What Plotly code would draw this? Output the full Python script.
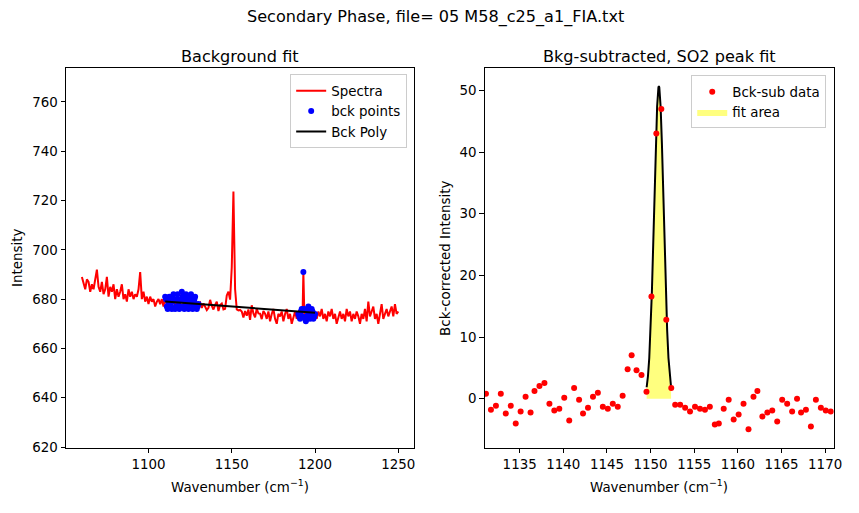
import numpy as np
import plotly.graph_objects as go

W, H = 859, 513

# ---------------- data ----------------
# spectrum, segments (x-start, x-end, step) and values
seg1_y = [  # 1060-1109, step 1
    689, 686, 684, 688, 687, 683, 686, 684, 688, 692,
    685, 683, 687, 682, 684, 689, 681, 685, 683, 686,
    680, 684, 681, 683, 686, 680, 682, 679, 684, 681,
    683, 680, 682, 681, 684, 691, 680, 683, 679, 681,
    678, 681, 679, 680, 677, 679, 680, 678, 680, 677,
]
seg2_y = [  # 1110-1130, step 0.5 (background window 1)
    681, 680, 677, 676, 678, 681, 680, 677, 676, 679,
    682, 680, 676, 677, 680, 682, 679, 676, 677, 680,
    683, 681, 677, 676, 679, 682, 680, 677, 676, 678,
    681, 682, 679, 676, 677, 680, 681, 678, 676, 677,
    678,
]
seg3_y = [  # 1131-1189, step 1
    678.6, 676.4, 678.3, 676.6, 675.6, 676.5, 679.7, 677.3, 675.8,
    677.7, 679.0, 675.2, 677.6, 678.2, 675.8, 676.1, 681.5, 683.0, 679.8,
    693.0, 723.6, 684.0, 675.8, 675.4, 675.6, 675.0, 672.6, 675.2, 673.3,
    675.8, 671.6, 677.5, 674.2, 672.6, 676.1, 674.2, 674.1, 671.9, 675.2,
    674.1, 672, 675, 671, 674, 676, 672, 670, 674, 673,
    675, 671, 674, 676, 672, 674, 670, 673, 675, 672,
]
seg4_y = [  # 1190-1200, step 0.5 (background window 2)
    674, 673, 672, 675, 676, 673, 691, 676, 672, 671,
    673, 675, 677, 674, 672, 673, 676, 675, 672, 673,
    674,
]
seg5_y = [  # 1201-1250, step 1
    672, 675, 673, 676, 672, 674, 671, 675, 673,
    676, 672, 674, 670, 673, 675, 672, 674, 671, 676,
    673, 675, 671, 674, 672, 675, 673, 670, 674, 672,
    676, 671, 679, 673, 675, 677, 672, 674, 670, 675,
    678, 672, 674, 676, 673, 675, 677, 673, 678, 674,
    675,
]
segments = [(1060, 1109, 1.0, seg1_y), (1110, 1130, 0.5, seg2_y), (1131, 1189, 1.0, seg3_y),
            (1190, 1200, 0.5, seg4_y), (1201, 1250, 1.0, seg5_y)]
spectra_x, spectra_y = [], []
for a, b, s, ys in segments:
    xs = np.arange(a, b + s / 2, s)
    assert len(xs) == len(ys), (a, len(xs), len(ys))
    spectra_x.extend(xs.tolist())
    spectra_y.extend(ys)

bck_ranges = [(1110, 1130), (1190, 1200)]
poly_x = [1110, 1200]
poly_y = [679.0, 674.5]

sub_x = [1131.14, 1131.71, 1132.28, 1132.84, 1133.41, 1133.98, 1134.55, 1135.11, 1135.68, 1136.25,
         1136.70, 1137.27, 1137.84, 1138.41, 1138.97, 1139.54, 1140.11, 1140.68, 1141.24, 1141.81,
         1142.26, 1142.83, 1143.40, 1143.96, 1144.53, 1145.10, 1145.67, 1146.24, 1146.80, 1147.37,
         1147.83, 1148.39, 1148.96, 1149.53, 1150.10, 1150.66, 1151.23, 1151.80, 1152.37, 1152.82,
         1153.39, 1153.96, 1154.52, 1155.09, 1155.66, 1156.23, 1156.79, 1157.36, 1157.82, 1158.38,
         1158.95, 1159.52, 1160.09, 1160.65, 1161.22, 1161.79, 1162.24, 1162.81, 1163.38, 1163.94,
         1164.51, 1165.08, 1165.65, 1166.22, 1166.78, 1167.24, 1167.80, 1168.37, 1168.94, 1169.51,
         1170.07, 1170.64]
sub_y = [0.80, -1.76, -1.12, 0.80, -2.40, -1.12, -4.00, -2.08, 0.32, -2.24,
         1.28, 2.08, 2.56, -0.80, -1.92, -1.60, 0.16, -3.52, 1.76, -0.16,
         -2.40, -1.44, 0.32, 0.96, -1.28, -1.60, -0.80, -1.28, 0.48, 4.80,
         7.04, 4.64, 3.84, 1.12, 16.58, 43.0, 47.0, 12.8, 1.76, -0.96,
         -0.96, -1.44, -2.08, -1.28, -1.60, -1.76, -1.28, -4.16, -4.00, -1.60,
         -0.16, -3.36, -2.56, -0.80, -4.96, 0.32, 1.28, -2.88, -2.24, -1.92,
         -3.68, -0.16, -0.80, -2.08, 0.00, -2.24, -1.76, -4.48, -0.16, -1.44,
         -1.92, -2.08]

fit_x = [1149.55, 1149.70, 1149.85, 1150.00, 1150.15, 1150.30, 1150.45, 1150.60, 1150.75, 1150.90,
         1150.95, 1151.00, 1151.15, 1151.30, 1151.45, 1151.60, 1151.75, 1151.90, 1152.05, 1152.20,
         1152.35]
fit_y = [1.87, 3.65, 6.61, 11.1, 17.3, 24.9, 33.3, 41.3, 47.4, 50.5,
         50.7, 50.5, 47.4, 41.3, 33.3, 24.9, 17.3, 11.1, 6.61, 3.65,
         1.87]

left_xticks = [1100, 1150, 1200, 1250]
left_yticks = [620, 640, 660, 680, 700, 720, 740, 760]
right_xticks = [1135, 1140, 1145, 1150, 1155, 1160, 1165, 1170]
right_yticks = [0, 10, 20, 30, 40, 50]

# ---------------- geometry (pixels) ----------------
L_x0, L_x1 = 66.7, 418.0
R_x0, R_x1 = 489.3, 841.7
A_top, A_bot = 69.3, 454.0

def px(x):
    return x / W

def py(y):
    return 1 - y / H

FONT = "DejaVu Sans"
FS = 13.4      # tick labels, axis labels, legends
FT = 16.1      # titles

fig = go.Figure()

bx = [x for x, y in zip(spectra_x, spectra_y) if any(a <= x <= b for a, b in bck_ranges)]
by = [y for x, y in zip(spectra_x, spectra_y) if any(a <= x <= b for a, b in bck_ranges)]

fig.add_trace(go.Scatter(x=spectra_x, y=spectra_y, mode="lines", name="Spectra",
                         line=dict(color="red", width=2), xaxis="x", yaxis="y", legend="legend"))
fig.add_trace(go.Scatter(x=bx, y=by, mode="markers", name="bck points",
                         marker=dict(color="blue", size=6), xaxis="x", yaxis="y", legend="legend"))
fig.add_trace(go.Scatter(x=poly_x, y=poly_y, mode="lines", name="Bck Poly",
                         line=dict(color="black", width=2), xaxis="x", yaxis="y", legend="legend"))
fig.add_trace(go.Scatter(x=fit_x, y=fit_y, mode="lines", name="fit area", fill="tozeroy",
                         fillcolor="rgba(255,255,0,0.5)", line=dict(width=0, color="rgba(255,255,0,0.5)"),
                         xaxis="x2", yaxis="y2", legend="legend2", legendrank=2))
fig.add_trace(go.Scatter(x=fit_x, y=fit_y, mode="lines", showlegend=False,
                         line=dict(color="black", width=2), xaxis="x2", yaxis="y2"))
fig.add_trace(go.Scatter(x=sub_x, y=sub_y, mode="markers", name="Bck-sub data",
                         marker=dict(color="red", size=6), xaxis="x2", yaxis="y2",
                         legend="legend2", legendrank=1))

axis_common = dict(showgrid=False, zeroline=False, showline=True, linecolor="black", linewidth=1,
                   mirror=True, ticks="outside", ticklen=4.5, tickwidth=1, tickcolor="black",
                   tickfont=dict(family=FONT, size=FS, color="black"))

legend_common = dict(xanchor="right", yanchor="top", bgcolor="rgba(255,255,255,0.8)",
                     bordercolor="#cccccc", borderwidth=1,
                     font=dict(family=FONT, size=FS, color="black"), itemwidth=30, tracegroupgap=0)

fig.update_layout(
    width=W, height=H, margin=dict(l=0, r=0, t=0, b=0),
    plot_bgcolor="white", paper_bgcolor="white",
    font=dict(family=FONT, size=FS, color="black"),
    xaxis=dict(domain=[px(L_x0), px(L_x1)], range=[1050.5, 1259.5], tickvals=left_xticks, anchor="y", **axis_common),
    yaxis=dict(domain=[py(A_bot), py(A_top)], range=[619.7, 773.6], tickvals=left_yticks, anchor="x", **axis_common),
    xaxis2=dict(domain=[px(R_x0), px(R_x1)], range=[1131.0, 1171.0], tickvals=right_xticks, anchor="y2", **axis_common),
    yaxis2=dict(domain=[py(A_bot), py(A_top)], range=[-7.95, 53.58], tickvals=right_yticks, anchor="x2", **axis_common),
    legend=dict(x=px(411), y=py(75.5), **legend_common),
    legend2=dict(x=px(834), y=py(76.5), **legend_common),
    showlegend=True,
)

ann = [
    dict(text="Secondary Phase, file= 05 M58_c25_a1_FIA.txt", x=px(440), y=py(17), size=FT),
    dict(text="Background fit", x=px((L_x0 + L_x1) / 2), y=py(57), size=FT),
    dict(text="Bkg-subtracted, SO2 peak fit", x=px((R_x0 + R_x1) / 2), y=py(57), size=FT),
    dict(text="Wavenumber (cm<sup>−1</sup>)", x=px((L_x0 + L_x1) / 2), y=py(493), size=FS),
    dict(text="Wavenumber (cm<sup>−1</sup>)", x=px((R_x0 + R_x1) / 2), y=py(493), size=FS),
]
for a in ann:
    fig.add_annotation(text=a["text"], x=a["x"], y=a["y"], xref="paper", yref="paper",
                       showarrow=False, xanchor="center", yanchor="middle",
                       font=dict(family=FONT, size=a["size"], color="black"))
fig.add_annotation(text="Intensity", x=px(17), y=py((A_top + A_bot) / 2), xref="paper", yref="paper",
                   showarrow=False, textangle=-90, xanchor="center", yanchor="middle",
                   font=dict(family=FONT, size=FS, color="black"))
fig.add_annotation(text="Bck-corrected Intensity", x=px(449), y=py((A_top + A_bot) / 2), xref="paper",
                   yref="paper", showarrow=False, textangle=-90, xanchor="center", yanchor="middle",
                   font=dict(family=FONT, size=FS, color="black"))

fig.write_html("out.html")
